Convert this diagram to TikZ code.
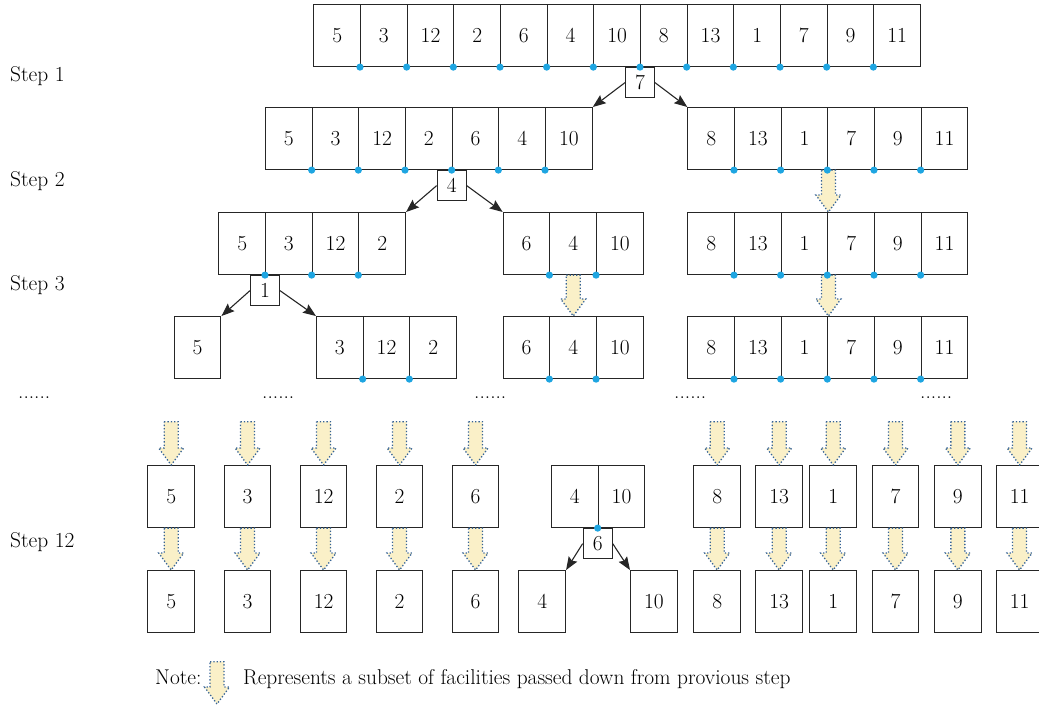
\documentclass[tikz,border=0pt]{standalone}
\usetikzlibrary{arrows.meta,calc}
\definecolor{dotblue}{RGB}{30,165,225}
\definecolor{blkfill}{RGB}{250,240,200}
\definecolor{blkline}{RGB}{55,100,150}
\tikzset{
  every node/.style={font=\rmfamily\fontsize{21.4}{25}\selectfont},
  cell/.style={draw=black!85, line width=1.1pt, minimum width=46.67pt, minimum height=62pt, inner sep=0pt, anchor=north west},
  pivot/.style={draw=black!85, line width=1.1pt, minimum width=29pt, minimum height=30pt, inner sep=0pt, anchor=north, fill=white},
  splitarrow/.style={-{Stealth[length=13pt,width=10pt,inset=2pt]}, line width=1.1pt, draw=black!85},
  blk/.style={fill=blkfill, draw=blkline, dotted, line width=1.3pt},
  dotc/.style={fill=dotblue},
  lbl/.style={anchor=base west, inner sep=0pt},
}
\newcommand\mkrow[4]{%
  \foreach \v [count=\i from 0] in {#4} {
    \node[cell] (#1-\i) at ({#2+\i*46.67},#3) {\v};
  }}
\newcommand\mkdots[2]{%
  \foreach \i in {1,...,#2} {\fill[dotc] (#1-\i.south west) circle (3.6pt);}}
\newcommand\barrow[2]{%
  \path[blk] let \p1=(#1), \p2=(#2) in
    (\x2-7pt,\y1) -- (\x2+7pt,\y1) -- (\x2+7pt,\y2+17pt) -- (\x2+12.5pt,\y2+17pt)
    -- (\x2,\y2) -- (\x2-12.5pt,\y2+17pt) -- (\x2-7pt,\y2+17pt) -- cycle;}
\begin{document}
\begin{tikzpicture}[x=1pt,y=-1pt]
\useasboundingbox (0,0) rectangle (1039,705);

% step labels
\node[lbl] (s1) at (10,81.7) {Step 1};
\node[lbl] (s2) at (10,186.7) {Step 2};
\node[lbl] (s3) at (10,290) {Step 3};
\node[lbl] (s12) at (10,547.3) {Step 12};

% rows
\mkrow{r1}{313.3}{4}{5,3,12,2,6,4,10,8,13,1,7,9,11}
\mkrow{r2a}{265}{107}{5,3,12,2,6,4,10}
\mkrow{r2b}{687.3}{107}{8,13,1,7,9,11}
\mkrow{r3a}{218.3}{212}{5,3,12,2}
\mkrow{r3b}{502.7}{212}{6,4,10}
\mkrow{r3c}{687.3}{212}{8,13,1,7,9,11}
\mkrow{r4a}{173.7}{316}{5}
\mkrow{r4b}{316}{316}{3,12,2}
\mkrow{r4c}{502.7}{316}{6,4,10}
\mkrow{r4d}{687.3}{316}{8,13,1,7,9,11}
\mkrow{r5m}{551}{465}{4,10}
\node[cell] (r6a) at (518.3,570) {4};
\node[cell] (r6b) at (630,570) {10};

% pivots
\node[pivot] (p1) at (r1-7.south west) {7};
\node[pivot] (p2) at (r2a-4.south west) {4};
\node[pivot] (p3) at (r3a-1.south west) {1};
\node[pivot] (p6) at (r5m-1.south west) {6};

% split arrows
\draw[splitarrow] (p1.west) -- (r2a-6.north east);
\draw[splitarrow] (p1.east) -- (r2b-0.north west);
\draw[splitarrow] (p2.west) -- (r3a-3.north east);
\draw[splitarrow] (p2.east) -- (r3b-0.north west);
\draw[splitarrow] (p3.west) -- (r4a-0.north east);
\draw[splitarrow] (p3.east) -- (r4b-0.north west);
\draw[splitarrow] (p6.west) -- (r6a.north east);
\draw[splitarrow] (p6.east) -- (r6b.north west);

% passed-down arrows
\barrow{r2b-2.south east}{r3c-2.north east}
\barrow{r3b-1.south}{r4c-1.north}
\barrow{r3c-2.south east}{r4d-2.north east}

% step 12 singles
\foreach \v/\xx in {5/147.3,3/223.7,12/299.7,2/375.7,6/451.7,8/693.3,13/755.3,1/809.3,7/871.7,9/934,11/995.7} {
  \node[cell] (a\v) at (\xx,465) {\v};
  \node[cell] (b\v) at (\xx,570) {\v};
  \coordinate (t\v) at ([yshift=43.3pt]a\v.north);
  \barrow{t\v}{a\v.north}
  \barrow{a\v.south}{b\v.north}
}

% dots
\mkdots{r1}{12}
\mkdots{r2a}{6}
\mkdots{r2b}{5}
\mkdots{r3a}{3}
\mkdots{r3b}{2}
\mkdots{r3c}{5}
\mkdots{r4b}{2}
\mkdots{r4c}{2}
\mkdots{r4d}{5}
\mkdots{r5m}{1}

% ellipses
\node[lbl] (e1) at (18,398.5) {......};
\node[lbl] (e2) at (262,398.5) {......};
\node[lbl] (e3) at (474,398.5) {......};
\node[lbl] (e4) at (674,398.5) {......};
\node[lbl] (e5) at (920,398.5) {......};

% note
\node[lbl] (note) at (155,684) {Note:};
\coordinate (n1) at (217,661.7);
\coordinate (n2) at (217,704);
\barrow{n1}{n2}
\node[lbl] (notetext) at (243,684) {Represents a subset of facilities passed down from provious step};
\end{tikzpicture}
\end{document}
